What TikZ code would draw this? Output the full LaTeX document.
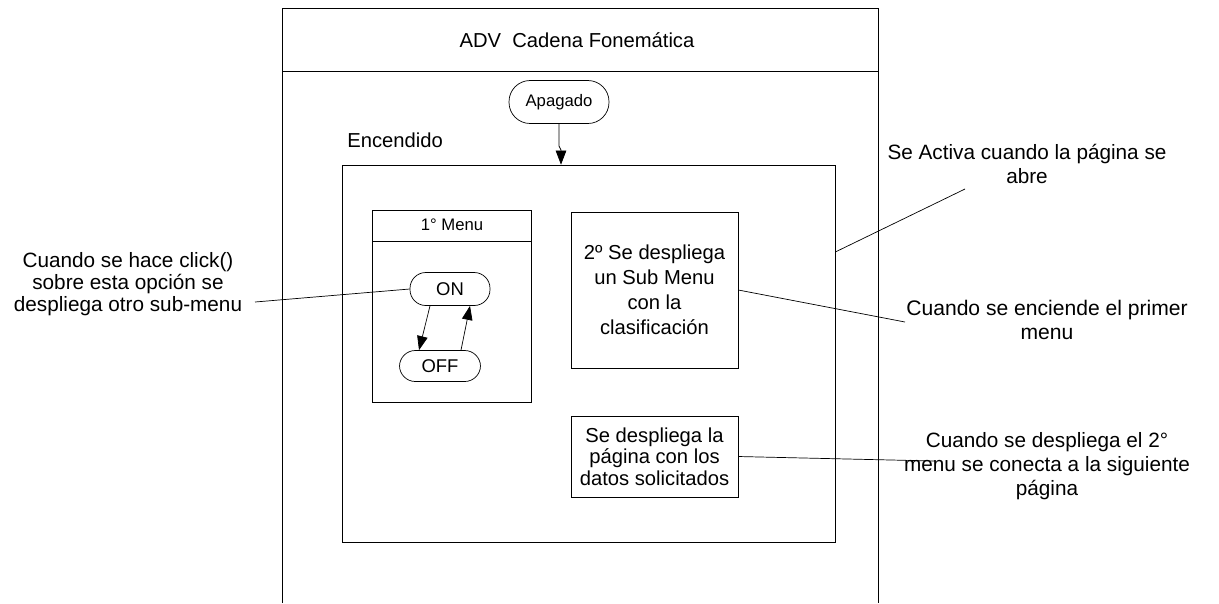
\documentclass[tikz,border=0pt]{standalone}
\usepackage{fontspec}
\setmainfont{Liberation Sans}
\usetikzlibrary{arrows.meta}

\begin{document}
\begin{tikzpicture}[x=0.02cm,y=-0.02cm,
  every node/.style={font=\fontsize{11.5}{13.6}\selectfont},
  box/.style={draw,inner sep=0pt},
  pill/.style={draw,inner sep=0pt},
  note/.style={align=center,inner sep=0pt},
  tip/.style={-{Triangle[length=8pt,width=6pt]}}]
\useasboundingbox (0,0) rectangle (1219,603);
\draw (282,603) -- (282,8) -- (878,8) -- (878,603);
\draw (282,71) -- (878,71);
\node[font=\fontsize{11.5}{13}\selectfont] at (577,40) (title) {ADV\ \ Cadena Fonemática};
\node[pill,rounded corners=12pt,minimum width=2cm,minimum height=0.86cm,font=\fontsize{9.5}{11}\selectfont] at (559,102) (apagado) {Apagado};
\node[anchor=west,inner sep=0pt] at (347,140) (enclabel) {Encendido};
\node[box,minimum width=9.86cm,minimum height=7.54cm] at (588.5,353.5) (enc) {};
\draw[tip] (apagado.south) -- (559,146) -- (561,150) -- (enc.north -| 561,0);
\node[box,minimum width=3.18cm,minimum height=3.84cm] at (451.5,306) (menu) {};
\draw (372,241) -- (531,241);
\node[font=\fontsize{9.5}{11}\selectfont] at (452,225) (menutitle) {1° Menu};
\node[pill,rounded corners=9pt,minimum width=1.6cm,minimum height=0.66cm,font=\fontsize{10.5}{12}\selectfont] at (450,289) (on) {ON};
\node[pill,rounded corners=9pt,minimum width=1.62cm,minimum height=0.62cm,font=\fontsize{10.5}{12}\selectfont] at (440,366) (off) {OFF};
\draw[tip] ([xshift=-0.4cm]on.south) -- ([xshift=-0.42cm]off.north);
\draw[tip] ([xshift=0.42cm]off.north) -- ([xshift=0.4cm]on.south);
\node[box,minimum width=3.34cm,minimum height=3.12cm,align=center,font=\fontsize{11.5}{14.2}\selectfont] at (654.5,290) (submenu) {2º Se despliega\\un Sub Menu\\con la\\clasificación};
\node[box,minimum width=3.34cm,minimum height=1.62cm,align=center,font=\fontsize{11.5}{12.2}\selectfont] at (654.5,456.5) (datos) {Se despliega la\\página con los\\datos solicitados};
\node[note,font=\fontsize{11.8}{12.5}\selectfont] at (128,284) (click) {Cuando se hace click()\\sobre esta opción se\\despliega otro sub-menu};
\node[note,font=\fontsize{11.8}{13.6}\selectfont] at (1027,164) (activa) {Se Activa cuando la página se\\abre};
\node[note,font=\fontsize{12}{13.6}\selectfont] at (1047,320) (enciende) {Cuando se enciende el primer\\menu};
\node[note,font=\fontsize{11.8}{13.6}\selectfont] at (1047,466) (conecta) {Cuando se despliega el 2°\\menu se conecta a la siguiente\\página};
\coordinate (clickend) at (255,302);
\coordinate (activaend) at (965,189);
\coordinate (enciendeend) at (905,322);
\coordinate (conectaend) at (935,461);
\draw (clickend) -- (on.west);
\draw (enc.east |- 0,252) -- (activaend);
\draw (submenu.east) -- (enciendeend);
\draw (datos.east) -- (conectaend);
\end{tikzpicture}
\end{document}
